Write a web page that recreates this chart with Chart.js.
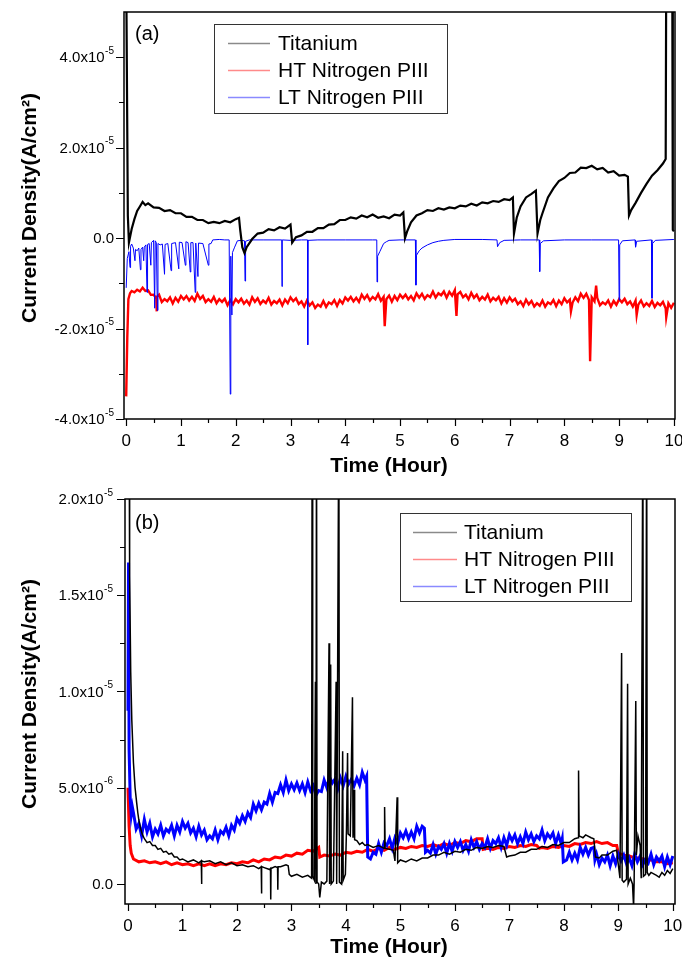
<!DOCTYPE html>
<html><head><meta charset="utf-8">
<script src="https://cdn.jsdelivr.net/npm/chart.js@4.4.1/dist/chart.umd.min.js"></script>
<style>
html,body{margin:0;padding:0;background:#fff;}
#wrap{position:relative;width:682px;height:960px;background:#fff;}
canvas{position:absolute;left:0;}
</style></head><body>
<div id="wrap">
<canvas id="ca" width="682" height="480" style="top:0;width:682px;height:480px"></canvas>
<canvas id="cb" width="682" height="480" style="top:480px;width:682px;height:480px"></canvas>
</div>
<script>
// ---- DATA (current density in units of 1e-5 A/cm^2, time in hours) ----
const seriesNames = ['Titanium', 'HT Nitrogen PIII', 'LT Nitrogen PIII'];
const xTickValues = [0,1,2,3,4,5,6,7,8,9,10];
const yTicksA = [-4,-2,0,2,4];
const yLabelsA = ['-4.0x10^-5','-2.0x10^-5','0.0','2.0x10^-5','4.0x10^-5'];
const yTicksB = [0,0.5,1,1.5,2];
const yLabelsB = ['0.0','5.0x10^-6','1.0x10^-5','1.5x10^-5','2.0x10^-5'];

// Panel (a)
const titaniumA = [[0,6],[0.01,6],[0.03,0.5],[0.05,-0.1],[0.1,0.2],[0.15,0.42],[0.2,0.6],[0.25,0.7],[0.3,0.8],[0.35,0.73],[0.4,0.77],[0.5,0.68],[0.6,0.67],[0.7,0.6],[0.8,0.62],[0.9,0.55],[1.0,0.55],[1.1,0.47],[1.2,0.47],[1.3,0.4],[1.4,0.4],[1.5,0.33],[1.6,0.36],[1.7,0.33],[1.8,0.38],[1.9,0.35],[2.0,0.42],[2.06,0.45],
[2.08,0.2],[2.12,-0.2],[2.16,-0.33],[2.2,-0.2],[2.3,-0.02],[2.4,0.1],[2.5,0.12],[2.6,0.2],[2.7,0.17],[2.8,0.24],[2.9,0.21],[3.0,0.3],
[3.03,-0.1],[3.1,0.02],[3.2,0.06],[3.3,0.14],[3.4,0.14],[3.5,0.22],[3.6,0.22],[3.7,0.3],[3.8,0.31],[3.9,0.4],[4.0,0.4],[4.1,0.46],[4.2,0.43],[4.3,0.5],[4.4,0.46],[4.5,0.52],[4.6,0.45],[4.7,0.48],[4.8,0.44],[4.9,0.52],[5.0,0.5],[5.06,0.57],
[5.09,0.0],[5.13,0.15],[5.2,0.35],[5.3,0.5],[5.4,0.55],[5.5,0.62],[5.6,0.6],[5.7,0.66],[5.8,0.63],[5.9,0.68],[6.0,0.66],[6.1,0.72],[6.2,0.7],[6.3,0.76],[6.4,0.72],[6.5,0.79],[6.6,0.77],[6.7,0.82],[6.8,0.8],[6.9,0.86],[7.0,0.84],[7.06,0.9],
[7.08,0.1],[7.13,0.45],[7.2,0.7],[7.3,0.9],[7.4,0.98],[7.48,1.05],
[7.51,0.1],[7.56,0.4],[7.6,0.55],[7.7,0.9],[7.8,1.1],[7.9,1.26],[8.0,1.33],[8.1,1.44],[8.2,1.45],[8.3,1.56],[8.4,1.55],[8.5,1.6],[8.6,1.52],[8.7,1.55],[8.8,1.45],[8.9,1.48],[9.0,1.38],[9.1,1.4],[9.16,1.36],
[9.18,0.5],[9.22,0.62],[9.3,0.78],[9.4,1.0],[9.5,1.2],[9.6,1.38],[9.7,1.5],[9.8,1.65],[9.85,1.75],[9.86,6],[9.97,6],[9.98,0.18],[10.0,0.15]];

const htA = [[0,-3.5],[0.02,-2.2],[0.04,-1.35],[0.07,-1.22],[0.1,-1.17],[0.15,-1.2],[0.2,-1.14],[0.25,-1.18],[0.3,-1.095],[0.35,-1.17],[0.4,-1.155],[0.45,-1.255],[0.5,-1.25],[0.55,-1.335],[0.555,-1.62],[0.56,-1.3],[0.6,-1.25],[0.65,-1.415],[0.7,-1.35],[0.75,-1.395],[0.8,-1.31],[0.85,-1.445],[0.9,-1.32],[0.95,-1.405],
[1.0,-1.28],[1.05,-1.355],[1.1,-1.28],[1.15,-1.38],[1.2,-1.3],[1.25,-1.39],[1.3,-1.23],[1.35,-1.345],[1.4,-1.28],[1.45,-1.415],[1.5,-1.35],[1.55,-1.41],[1.6,-1.3],[1.65,-1.44],[1.7,-1.35],[1.75,-1.41],[1.8,-1.34],[1.85,-1.485],[1.9,-1.37],[1.95,-1.465],
[2.0,-1.35],[2.05,-1.42],[2.1,-1.34],[2.15,-1.45],[2.2,-1.38],[2.25,-1.47],[2.3,-1.31],[2.35,-1.41],[2.4,-1.33],[2.45,-1.455],[2.5,-1.38],[2.55,-1.435],[2.6,-1.32],[2.65,-1.47],[2.7,-1.39],[2.75,-1.44],[2.8,-1.36],[2.85,-1.49],[2.9,-1.36],[2.95,-1.44],
[3.0,-1.31],[3.05,-1.395],[3.1,-1.33],[3.15,-1.455],[3.2,-1.4],[3.25,-1.515],[3.3,-1.38],[3.35,-1.49],[3.4,-1.42],[3.45,-1.545],[3.5,-1.47],[3.55,-1.515],[3.6,-1.39],[3.65,-1.52],[3.7,-1.42],[3.75,-1.46],[3.8,-1.37],[3.85,-1.5],[3.9,-1.37],[3.95,-1.445],
[4.0,-1.31],[4.05,-1.38],[4.1,-1.3],[4.15,-1.4],[4.2,-1.32],[4.25,-1.41],[4.3,-1.25],[4.35,-1.345],[4.4,-1.26],[4.45,-1.38],[4.5,-1.3],[4.55,-1.355],[4.6,-1.24],[4.65,-1.385],[4.7,-1.3],[4.72,-1.95],[4.75,-1.35],[4.8,-1.27],[4.85,-1.405],[4.9,-1.28],[4.95,-1.37],
[5.0,-1.25],[5.05,-1.325],[5.1,-1.25],[5.15,-1.355],[5.2,-1.28],[5.25,-1.375],[5.3,-1.22],[5.35,-1.315],[5.4,-1.23],[5.45,-1.345],[5.5,-1.26],[5.55,-1.305],[5.6,-1.18],[5.65,-1.315],[5.7,-1.22],[5.75,-1.265],[5.8,-1.18],[5.85,-1.315],[5.9,-1.19],[5.95,-1.275],
[6.0,-1.15],[6.03,-1.72],[6.05,-1.245],[6.1,-1.19],[6.15,-1.31],[6.2,-1.25],[6.25,-1.355],[6.3,-1.21],[6.35,-1.32],[6.4,-1.25],[6.45,-1.375],[6.5,-1.3],[6.55,-1.36],[6.6,-1.25],[6.65,-1.4],[6.7,-1.32],[6.75,-1.375],[6.8,-1.3],[6.85,-1.445],[6.9,-1.33],[6.95,-1.425],
[7.0,-1.31],[7.05,-1.4],[7.1,-1.34],[7.15,-1.46],[7.2,-1.4],[7.25,-1.505],[7.3,-1.36],[7.35,-1.465],[7.4,-1.39],[7.45,-1.515],[7.5,-1.44],[7.55,-1.495],[7.6,-1.38],[7.65,-1.515],[7.7,-1.42],[7.75,-1.46],[7.8,-1.37],[7.85,-1.505],[7.9,-1.38],[7.95,-1.46],
[8.0,-1.33],[8.05,-1.42],[8.1,-1.36],[8.12,-1.62],[8.15,-1.425],[8.2,-1.31],[8.25,-1.395],[8.3,-1.23],[8.35,-1.32],[8.4,-1.23],[8.45,-1.37],[8.47,-2.72],[8.5,-1.31],[8.55,-1.4],[8.58,-1.05],[8.6,-1.32],[8.65,-1.485],[8.7,-1.42],[8.75,-1.465],[8.8,-1.38],[8.85,-1.515],[8.9,-1.39],[8.95,-1.475],
[9.0,-1.35],[9.05,-1.42],[9.1,-1.34],[9.15,-1.46],[9.2,-1.4],[9.25,-1.515],[9.3,-1.38],[9.32,-1.7],[9.35,-1.47],[9.4,-1.38],[9.45,-1.51],[9.5,-1.44],[9.55,-1.5],[9.6,-1.39],[9.65,-1.525],[9.7,-1.43],[9.75,-1.485],[9.8,-1.41],[9.85,-1.555],[9.86,-1.75],[9.9,-1.44],[9.95,-1.54],[10.0,-1.43]];

const ltA = [[0,-1.1],[0.02,-0.45],[0.05,-0.3],[0.07,-0.65],[0.08,-0.18],[0.1,-0.13],[0.13,-0.22],[0.16,-0.5],[0.17,-0.25],[0.2,-0.28],[0.23,-0.22],[0.26,-0.7],[0.27,-0.25],[0.3,-0.2],[0.32,-0.5],[0.33,-0.2],[0.36,-0.15],[0.38,-1.2],[0.39,-0.14],[0.42,-0.12],[0.45,-0.6],[0.46,-0.1],[0.5,-0.05],[0.52,-1.55],[0.53,-0.06],[0.55,-0.1],[0.57,-1.6],[0.58,-0.12],[0.62,-0.15],[0.66,-0.13],[0.7,-0.8],[0.71,-0.14],[0.76,-0.12],[0.82,-0.72],[0.83,-0.12],[0.9,-0.1],[0.96,-0.68],[0.97,-0.09],[1.02,-0.1],[1.08,-0.6],[1.09,-0.08],[1.13,-0.1],[1.17,-0.75],[1.18,-0.1],[1.22,-0.1],[1.26,-1.2],[1.27,-0.11],[1.31,-0.85],[1.32,-0.11],[1.4,-0.12],[1.5,-0.6],[1.51,-0.13],[1.55,-0.12],[1.58,-0.04],[1.7,-0.03],[1.8,-0.04],[1.88,-0.04],[1.9,-3.45],[1.91,-0.4],[1.93,-1.7],[1.94,-0.32],[1.98,-0.2],[2.03,-0.06],[2.1,-0.05],[2.16,-0.06],[2.17,-0.95],[2.18,-0.07],[2.25,-0.04],[2.5,-0.04],[2.84,-0.04],[2.845,-1.07],[2.85,-0.04],[3.0,-0.05],[3.2,-0.04],[3.31,-0.04],[3.315,-2.36],[3.32,-0.05],[3.5,-0.04],[4.0,-0.04],[4.5,-0.04],[4.575,-0.04],[4.58,-0.97],[4.59,-0.4],[4.63,-0.3],[4.7,-0.12],[4.75,-0.08],[4.8,-0.05],[5.0,-0.04],[5.28,-0.04],[5.29,-1.04],[5.3,-0.38],[5.35,-0.28],[5.4,-0.22],[5.5,-0.15],[5.6,-0.1],[5.7,-0.07],[5.8,-0.05],[6.0,-0.03],[6.5,-0.03],[6.77,-0.04],[6.78,-0.19],[6.82,-0.1],[6.9,-0.05],[7.2,-0.04],[7.54,-0.04],[7.55,-0.74],[7.56,-0.12],[7.62,-0.06],[8.0,-0.04],[8.5,-0.04],[8.99,-0.04],[9.0,-1.37],[9.01,-0.15],[9.06,-0.06],[9.29,-0.04],[9.3,-0.2],[9.32,-0.07],[9.59,-0.04],[9.6,-1.33],[9.61,-0.12],[9.66,-0.05],[10.0,-0.03]];

// Panel (b)
const titaniumB = [[0,2.5],[0.02,2.5],[0.03,1.6],[0.05,1.1],[0.07,0.85],[0.1,0.63],[0.13,0.5],[0.16,0.42],[0.18,0.37],[0.2,0.33],[0.23,0.29],[0.26,0.26],[0.3,0.235],[0.35,0.215],[0.4,0.22],[0.45,0.2],[0.5,0.2],[0.55,0.18],[0.6,0.185],[0.65,0.165],[0.7,0.17],[0.75,0.155],[0.8,0.16],[0.85,0.14],[0.9,0.14],[0.95,0.125],[1.0,0.13],[1.1,0.115],[1.2,0.125],[1.3,0.11],[1.345,0.12],[1.35,0.0],[1.355,0.12],[1.4,0.115],[1.5,0.12],[1.6,0.105],[1.7,0.115],[1.8,0.1],[1.9,0.11],[2.0,0.095],[2.1,0.1],[2.2,0.09],[2.3,0.095],[2.4,0.08],[2.445,0.09],[2.45,-0.05],[2.455,0.09],[2.5,0.085],[2.6,0.075],[2.615,0.08],[2.62,-0.08],[2.625,0.08],[2.7,0.09],[2.745,0.085],[2.75,-0.03],[2.755,0.09],[2.8,0.09],[2.9,0.1],[2.94,0.095],[2.96,0.05],[3.0,0.04],[3.1,0.05],[3.2,0.035],[3.3,0.045],[3.37,0.03],[3.38,2.5],[3.39,0.04],[3.42,0.02],[3.44,1.05],[3.45,0.0],[3.46,2.5],[3.47,0.01],[3.5,0.0],[3.52,-0.07],[3.55,0.01],[3.6,0.0],[3.65,0.015],[3.69,1.25],[3.7,0.0],[3.72,1.14],[3.73,0.0],[3.77,0.015],[3.82,1.05],[3.83,0.0],[3.87,2.5],[3.88,0.01],[3.92,0.0],[3.94,0.69],[3.95,0.02],[3.99,0.05],[4.01,0.28],[4.03,0.68],[4.04,0.26],[4.08,0.25],[4.12,0.97],[4.13,0.24],[4.15,0.49],[4.16,0.23],[4.2,0.225],[4.25,0.205],[4.3,0.215],[4.35,0.2],[4.4,0.205],[4.5,0.19],[4.6,0.2],[4.7,0.185],[4.71,0.4],[4.72,0.185],[4.8,0.18],[4.87,0.175],[4.9,0.12],[4.94,0.45],[4.95,0.11],[5.0,0.125],[5.1,0.115],[5.2,0.13],[5.3,0.12],[5.4,0.135],[5.5,0.135],[5.6,0.15],[5.7,0.15],[5.8,0.165],[5.9,0.155],[6.0,0.17],[6.1,0.165],[6.2,0.18],[6.3,0.175],[6.4,0.19],[6.5,0.185],[6.6,0.195],[6.7,0.19],[6.8,0.2],[6.9,0.195],[6.95,0.14],[7.0,0.145],[7.1,0.15],[7.2,0.165],[7.3,0.165],[7.4,0.18],[7.5,0.18],[7.6,0.195],[7.7,0.19],[7.8,0.205],[7.9,0.2],[8.0,0.215],[8.1,0.215],[8.2,0.235],[8.26,0.24],[8.27,0.59],[8.28,0.25],[8.35,0.24],[8.4,0.255],[8.5,0.24],[8.55,0.235],[8.58,0.14],[8.65,0.135],[8.7,0.15],[8.8,0.15],[8.9,0.17],[8.97,0.175],[9.0,0.1],[9.03,0.03],[9.06,1.2],[9.07,0.02],[9.1,0.01],[9.15,0.025],[9.17,1.04],[9.18,0.0],[9.22,0.03],[9.26,0.0],[9.28,-0.12],[9.29,0.01],[9.32,0.95],[9.33,0.15],[9.36,0.25],[9.4,0.2],[9.42,0.03],[9.45,2.5],[9.46,0.04],[9.5,0.05],[9.52,2.5],[9.53,0.06],[9.56,0.045],[9.6,0.06],[9.7,0.045],[9.75,0.035],[9.8,0.06],[9.85,0.045],[9.9,0.07],[9.95,0.055],[10.0,0.08]];

const htB = [[0,0.5],[0.02,0.3],[0.04,0.2],[0.06,0.16],[0.1,0.13],[0.2,0.115],[0.3,0.12],[0.4,0.11],[0.5,0.115],[0.6,0.105],[0.7,0.115],[0.8,0.1],[0.9,0.11],[1.0,0.1],[1.1,0.105],[1.2,0.095],[1.3,0.105],[1.4,0.095],[1.5,0.105],[1.6,0.095],[1.7,0.105],[1.8,0.1],[1.9,0.11],[2.0,0.105],[2.1,0.115],[2.2,0.11],[2.3,0.125],[2.4,0.115],[2.5,0.13],[2.6,0.125],[2.7,0.14],[2.8,0.135],[2.9,0.15],[3.0,0.145],[3.1,0.16],[3.2,0.155],[3.3,0.175],[3.4,0.17],[3.5,0.19],[3.52,0.14],[3.6,0.15],[3.7,0.145],[3.8,0.155],[3.9,0.15],[4.0,0.165],[4.1,0.16],[4.2,0.17],[4.3,0.165],[4.4,0.18],[4.5,0.17],[4.6,0.185],[4.7,0.175],[4.8,0.19],[4.9,0.18],[5.0,0.19],[5.1,0.185],[5.2,0.195],[5.3,0.19],[5.4,0.2],[5.5,0.195],[5.6,0.205],[5.7,0.195],[5.8,0.21],[5.9,0.2],[6.0,0.215],[6.1,0.21],[6.2,0.225],[6.3,0.22],[6.4,0.235],[6.5,0.235],[6.52,0.18],[6.6,0.185],[6.7,0.18],[6.8,0.19],[6.9,0.185],[7.0,0.195],[7.1,0.19],[7.2,0.2],[7.3,0.195],[7.4,0.205],[7.5,0.2],[7.55,0.185],[7.6,0.19],[7.7,0.185],[7.8,0.195],[7.9,0.19],[8.0,0.2],[8.1,0.195],[8.2,0.21],[8.3,0.205],[8.4,0.215],[8.5,0.21],[8.6,0.22],[8.7,0.21],[8.8,0.215],[8.9,0.2],[8.97,0.2],[9.0,0.16],[9.1,0.15],[9.2,0.145],[9.3,0.135],[9.4,0.135],[9.5,0.125],[9.6,0.125],[9.7,0.115],[9.8,0.115],[9.9,0.105],[10.0,0.11]];

const ltB = [[0,0.9],[0.01,1.67],[0.02,0.7],[0.04,0.45],[0.06,0.36],[0.08,0.4],[0.1,0.37],[0.15,0.285],[0.2,0.315],[0.25,0.25],[0.3,0.335],[0.35,0.27],[0.4,0.315],[0.45,0.245],[0.5,0.285],[0.55,0.26],[0.6,0.305],[0.65,0.25],[0.7,0.285],[0.75,0.27],[0.8,0.305],[0.85,0.25],[0.9,0.305],[0.95,0.27],
[1.0,0.325],[1.05,0.29],[1.1,0.315],[1.15,0.265],[1.2,0.29],[1.25,0.245],[1.3,0.3],[1.35,0.255],[1.4,0.28],[1.45,0.23],[1.5,0.25],[1.55,0.235],[1.6,0.28],[1.65,0.23],[1.7,0.275],[1.75,0.26],[1.8,0.295],[1.85,0.25],[1.9,0.305],[1.95,0.28],
[2.0,0.34],[2.05,0.315],[2.1,0.355],[2.15,0.325],[2.2,0.37],[2.25,0.345],[2.3,0.415],[2.35,0.38],[2.4,0.42],[2.45,0.385],[2.5,0.425],[2.55,0.415],[2.6,0.47],[2.65,0.425],[2.7,0.475],[2.75,0.47],[2.8,0.515],[2.85,0.475],[2.9,0.54],[2.95,0.485],
[3.0,0.52],[3.05,0.49],[3.1,0.525],[3.15,0.485],[3.2,0.52],[3.25,0.475],[3.3,0.53],[3.35,0.485],[3.4,0.51],[3.45,0.46],[3.5,0.485],[3.55,0.48],[3.6,0.54],[3.65,0.5],[3.7,0.555],[3.75,0.525],[3.8,0.545],[3.85,0.495],[3.9,0.55],[3.95,0.51],
[4.0,0.56],[4.05,0.52],[4.1,0.545],[4.15,0.51],[4.2,0.55],[4.25,0.515],[4.3,0.58],[4.35,0.54],[4.38,0.56],[4.4,0.14],[4.45,0.13],[4.5,0.165],[4.55,0.155],[4.6,0.21],[4.65,0.165],[4.7,0.215],[4.75,0.2],[4.8,0.235],[4.85,0.185],[4.9,0.24],[4.95,0.21],
[5.0,0.265],[5.05,0.24],[5.1,0.275],[5.15,0.235],[5.2,0.27],[5.25,0.235],[5.3,0.3],[5.35,0.265],[5.4,0.3],[5.44,0.29],[5.46,0.165],[5.5,0.175],[5.55,0.16],[5.6,0.205],[5.65,0.155],[5.7,0.195],[5.75,0.18],[5.8,0.21],[5.85,0.16],[5.9,0.21],[5.95,0.17],
[6.0,0.22],[6.05,0.19],[6.1,0.22],[6.15,0.175],[6.2,0.205],[6.25,0.17],[6.3,0.23],[6.35,0.19],[6.4,0.22],[6.45,0.18],[6.5,0.21],[6.55,0.19],[6.6,0.235],[6.65,0.185],[6.7,0.225],[6.75,0.21],[6.8,0.24],[6.85,0.19],[6.9,0.24],[6.95,0.2],
[7.0,0.255],[7.05,0.225],[7.1,0.255],[7.15,0.21],[7.2,0.245],[7.25,0.21],[7.3,0.27],[7.35,0.23],[7.4,0.26],[7.45,0.22],[7.5,0.25],[7.55,0.235],[7.6,0.28],[7.65,0.225],[7.7,0.26],[7.75,0.24],[7.8,0.265],[7.85,0.21],[7.9,0.255],[7.95,0.21],[7.97,0.235],[7.99,0.115],
[8.05,0.125],[8.1,0.165],[8.15,0.125],[8.2,0.16],[8.25,0.125],[8.3,0.19],[8.35,0.155],[8.4,0.19],[8.45,0.15],[8.5,0.185],[8.55,0.19],[8.57,0.125],[8.6,0.155],[8.65,0.1],[8.7,0.135],[8.75,0.115],[8.8,0.15],[8.85,0.095],[8.9,0.145],[8.95,0.105],
[9.0,0.155],[9.05,0.12],[9.1,0.15],[9.15,0.105],[9.2,0.135],[9.25,0.095],[9.3,0.155],[9.35,0.115],[9.4,0.145],[9.45,0.1],[9.5,0.13],[9.55,0.11],[9.6,0.155],[9.65,0.1],[9.7,0.14],[9.75,0.12],[9.8,0.145],[9.85,0.09],[9.9,0.14],[9.95,0.1],[10.0,0.145]];

// ---- RENDERING ----
const FONT = "'Liberation Sans', Arial, Helvetica, sans-serif";
const toXY = arr => arr.map(p => ({x: p[0], y: p[1]}));

function decor(cfg) {
  return {
    id: 'decor',
    afterDraw(chart) {
      const ctx = chart.ctx, a = chart.chartArea;
      const xs = chart.scales.x, ys = chart.scales.y;
      ctx.save();
      ctx.strokeStyle = '#000';
      ctx.lineWidth = 1.5;
      ctx.strokeRect(a.left, a.top, a.right - a.left, a.bottom - a.top);
      ctx.lineWidth = 1.2;
      ctx.beginPath();
      cfg.yMajor.forEach(v => { const y = Math.round(ys.getPixelForValue(v)) + 0.5; ctx.moveTo(a.left - 8, y); ctx.lineTo(a.left, y); });
      cfg.yMinor.forEach(v => { const y = Math.round(ys.getPixelForValue(v)) + 0.5; ctx.moveTo(a.left - 5, y); ctx.lineTo(a.left, y); });
      cfg.xMajor.forEach(v => { const x = Math.round(xs.getPixelForValue(v)) + 0.5; ctx.moveTo(x, a.bottom); ctx.lineTo(x, a.bottom + 7); });
      cfg.xMinor.forEach(v => { const x = Math.round(xs.getPixelForValue(v)) + 0.5; ctx.moveTo(x, a.bottom); ctx.lineTo(x, a.bottom + 4); });
      ctx.stroke();

      // y tick labels with raised exponent
      ctx.fillStyle = '#000';
      ctx.textAlign = 'right';
      ctx.textBaseline = 'middle';
      cfg.yMajor.forEach((v, i) => {
        const y = ys.getPixelForValue(v);
        const parts = cfg.yLabels[i].split('^');
        let xr = a.left - cfg.yPad;
        if (parts[1]) {
          ctx.font = '10px ' + FONT;
          ctx.fillText(parts[1], xr, y - 6);
          xr -= ctx.measureText(parts[1]).width + 0.5;
        }
        ctx.font = '15px ' + FONT;
        ctx.fillText(parts[0], xr, y + 1);
      });

      ctx.textAlign = 'center';
      ctx.font = 'bold 21px ' + FONT;
      ctx.fillText('Time (Hour)', cfg.xTitle[0], cfg.xTitle[1]);
      ctx.save();
      ctx.translate(cfg.yTitle[0], cfg.yTitle[1]);
      ctx.rotate(-Math.PI / 2);
      ctx.fillText('Current Density(A/cm\u00B2)', 0, 0);
      ctx.restore();

      ctx.textAlign = 'left';
      ctx.font = '20px ' + FONT;
      ctx.fillText(cfg.panel, cfg.panelPos[0], cfg.panelPos[1]);

      const L = cfg.legend;
      ctx.lineWidth = 1;
      ctx.strokeStyle = '#333';
      ctx.strokeRect(L.box[0] + 0.5, L.box[1] + 0.5, L.box[2] - L.box[0], L.box[3] - L.box[1]);
      ctx.font = '21px ' + FONT;
      chart.data.datasets.forEach((ds, i) => {
        const y = L.rows[i];
        ctx.strokeStyle = ds.legendColor;
        ctx.lineWidth = 1.5;
        ctx.beginPath();
        ctx.moveTo(L.line[0], y + 0.5); ctx.lineTo(L.line[1], y + 0.5);
        ctx.stroke();
        ctx.fillStyle = '#000';
        ctx.fillText(ds.label, L.text, y + 1);
      });
      ctx.restore();
    }
  };
}

function makeChart(id, sets, widths, opt) {
  const colors = ['#000000', '#ff0000', '#0000ff'];
  const legendColors = ['#8a8a8a', '#ff8a8a', '#8a8aff'];
  const orders = [0, 2, 1];
  return new Chart(document.getElementById(id), {
    type: 'line',
    data: {
      datasets: sets.map((s, i) => ({
        label: seriesNames[i],
        data: toXY(s),
        borderColor: colors[i],
        legendColor: legendColors[i],
        borderWidth: widths[i],
        pointRadius: 0,
        tension: 0,
        fill: false,
        order: orders[i],
        clip: 0
      }))
    },
    options: {
      responsive: false,
      animation: false,
      events: [],
      layout: { padding: { top: opt.padTop, right: 7, left: 0, bottom: 0 } },
      plugins: { legend: { display: false }, tooltip: { enabled: false } },
      scales: {
        x: {
          type: 'linear', min: opt.xMin, max: opt.xMax,
          grid: { display: false, drawTicks: false, tickLength: 0 },
          border: { display: false },
          ticks: {
            stepSize: 1, includeBounds: false, autoSkip: false, maxRotation: 0,
            padding: opt.xPad, color: '#000', font: { family: FONT, size: 17 },
            callback: v => (xTickValues.includes(v) ? String(v) : '')
          },
          afterFit: s => { s.height = opt.xH; s.paddingLeft = 0; s.paddingRight = 0; }
        },
        y: {
          type: 'linear', min: opt.yMin, max: opt.yMax,
          grid: { display: false, drawTicks: false, tickLength: 0 },
          border: { display: false },
          ticks: { display: false, stepSize: opt.yStep, includeBounds: false },
          afterFit: s => { s.width = opt.yW; s.paddingTop = 0; s.paddingBottom = 0; }
        }
      }
    },
    plugins: [decor(opt.decor)]
  });
}

makeChart('ca', [titaniumA, htA, ltA], [2.2, 2.4, 1], {
  padTop: 12, xH: 61, yW: 124, xMin: -0.04, xMax: 10.02, yMin: -4, yMax: 5, yStep: 2, xPad: 12,
  decor: {
    yMajor: yTicksA, yLabels: yLabelsA, yPad: 10, yMinor: [-3, -1, 1, 3],
    xMajor: xTickValues, xMinor: [0.5,1.5,2.5,3.5,4.5,5.5,6.5,7.5,8.5,9.5],
    xTitle: [389, 466], yTitle: [30, 208], panel: '(a)', panelPos: [135, 34],
    legend: { box: [214, 24, 447, 113], rows: [43, 70, 97], line: [228, 270], text: 278 }
  }
});

makeChart('cb', [titaniumB, htB, ltB], [1.5, 3, 3], {
  padTop: 19, xH: 56, yW: 125, xMin: -0.055, xMax: 10.04, yMin: -0.104, yMax: 2.0, yStep: 0.5, xPad: 12,
  decor: {
    yMajor: yTicksB, yLabels: yLabelsB, yPad: 12, yMinor: [0.25, 0.75, 1.25, 1.75],
    xMajor: xTickValues, xMinor: [0.5,1.5,2.5,3.5,4.5,5.5,6.5,7.5,8.5,9.5],
    xTitle: [389, 467], yTitle: [30, 214], panel: '(b)', panelPos: [135, 43],
    legend: { box: [400, 33, 631, 121], rows: [52, 79, 106], line: [413, 457], text: 464 }
  }
});
</script>
</body></html>
